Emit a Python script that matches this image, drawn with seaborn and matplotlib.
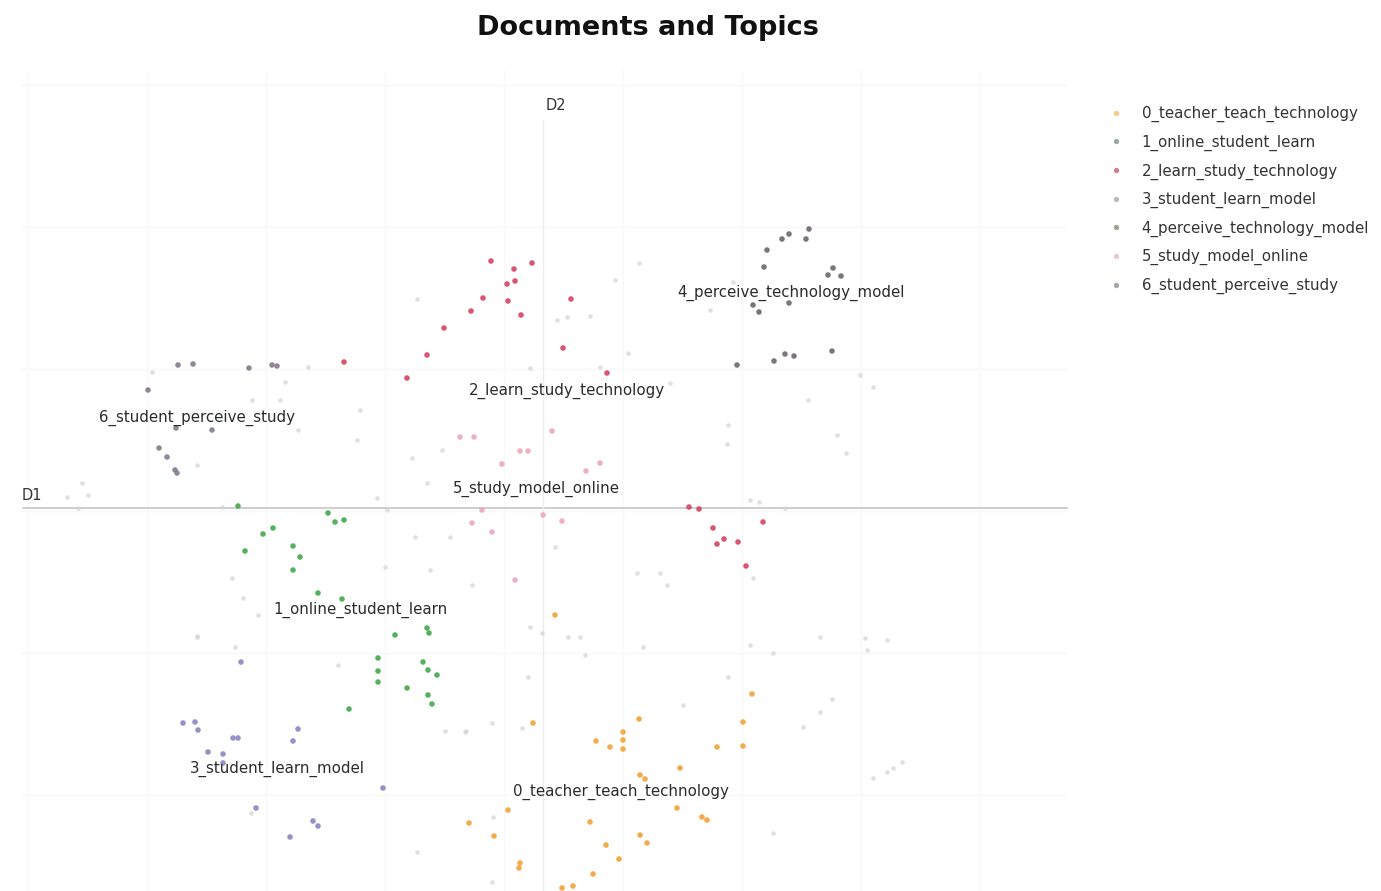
import matplotlib
matplotlib.use("Agg")
import matplotlib.pyplot as plt
import seaborn as sns
import pandas as pd
import numpy as np
from matplotlib.lines import Line2D

sns.set_theme(style="white")
plt.rcParams['font.family'] = ['DejaVu Sans']

topic_names = ["0_teacher_teach_technology", "1_online_student_learn", "2_learn_study_technology",
               "3_student_learn_model", "4_perceive_technology_model", "5_study_model_online",
               "6_student_perceive_study"]

t0_x = [-0.10, 0.53, 0.67, 0.80, 0.80, 0.80, 0.96, 1.74, 2.00, 2.00, 2.09, 1.37, 0.97, 1.02, 1.34, 1.59,
        1.64, -0.35, -0.74, -0.49, 0.47, 0.97, 1.04, 0.63, 0.76, -0.23, -0.24, 0.50, 0.19, 0.30, 0.12]
t0_y = [-2.15, -2.33, -2.39, -2.24, -2.32, -2.41, -2.11, -2.39, -2.14, -2.38, -1.86, -2.60, -2.67, -2.71,
        -3.00, -3.09, -3.12, -3.02, -3.15, -3.28, -3.14, -3.27, -3.35, -3.37, -3.51, -3.55, -3.60, -3.66,
        -3.80, -3.78, -1.07]

t1_x = [-3.05, -2.80, -2.70, -2.98, -2.50, -2.43, -2.50, -2.15, -2.08, -1.99, -2.25, -2.01, -1.48, -1.16,
        -1.14, -1.65, -1.65, -1.65, -1.20, -1.15, -1.06, -1.36, -1.15, -1.11, -1.94]
t1_y = [0.02, -0.26, -0.20, -0.43, -0.38, -0.49, -0.62, -0.05, -0.14, -0.12, -0.85, -0.91, -1.27, -1.20,
        -1.25, -1.50, -1.63, -1.74, -1.54, -1.62, -1.67, -1.80, -1.87, -1.96, -2.01]

t2_x = [-0.52, -0.29, -0.11, -0.36, -0.28, -0.60, -0.35, 0.28, -0.72, -0.22, -0.99, -1.16, 0.20, -1.36,
        0.64, -1.99, 1.46, 1.56, 1.70, 1.74, 1.81, 1.95, 2.20, 2.03]
t2_y = [2.47, 2.39, 2.45, 2.24, 2.27, 2.10, 2.07, 2.09, 1.97, 1.93, 1.80, 1.53, 1.60, 1.30,
        1.35, 1.46, 0.01, -0.01, -0.20, -0.36, -0.31, -0.34, -0.14, -0.58]

t3_x = [-3.60, -3.48, -3.45, -3.10, -3.05, -2.45, -2.50, -3.35, -3.20, -3.20, -2.87, -2.30, -2.25, -2.53,
        -1.60, -3.02]
t3_y = [-2.15, -2.14, -2.22, -2.30, -2.30, -2.21, -2.33, -2.44, -2.46, -2.55, -3.00, -3.13, -3.18, -3.29,
        -2.80, -1.54]

t4_x = [2.39, 2.46, 2.63, 2.66, 2.24, 2.21, 2.90, 2.85, 2.98, 2.10, 2.16, 1.94, 2.31, 2.42, 2.51, 2.89, 2.46]
t4_y = [2.69, 2.74, 2.69, 2.79, 2.58, 2.41, 2.40, 2.33, 2.32, 2.03, 1.96, 1.43, 1.47, 1.54, 1.52, 1.57, 2.05]

t5_x = [0.09, -0.23, -0.15, -0.41, -0.69, -0.83, 0.57, 0.43, 0.19, 0.00, -0.61, -0.51, -0.71, -0.28]
t5_y = [0.77, 0.57, 0.57, 0.44, 0.71, 0.71, 0.45, 0.37, -0.13, -0.07, -0.02, -0.24, -0.15, -0.72]

t6_x = [-3.65, -3.50, -2.94, -2.71, -2.66, -3.95, -3.84, -3.76, -3.68, -3.66, -3.31, -3.67]
t6_y = [1.43, 1.44, 1.40, 1.43, 1.42, 1.18, 0.60, 0.51, 0.38, 0.35, 0.78, 0.80]

other_x = [-3.91, -2.35, -2.58, -2.91, -2.63, -1.83, -2.45, -1.86, -1.01, -1.31, -1.16, -1.66, -3.46, -4.61,
           -4.55, -4.76, -4.65, -3.21, -1.56, -1.28, -0.93, -1.13, -1.58, -3.11, -3.00, -2.85, -3.46, -3.08,
           -2.05, 0.12, -0.71, -0.13, -0.01, -0.15, 1.85, 1.84, 2.94, 3.03, 2.07, 2.16, 2.42, 0.94, 1.17,
           1.24, 2.10, 0.37, 0.25, 0.42, 1.00, 2.07, 2.30, 2.77, 3.22, 3.44, 3.24, 1.85, 1.40, -0.51, -0.21,
           -0.78, 2.89, 2.77, 2.60, 3.30, 3.44, 3.50, 3.59, 2.30, -0.51, -0.50, 0.96, -1.26, 0.14, 0.24,
           0.47, 0.72, 0.85, -0.13, 0.57, 1.27, 2.65, 3.17, 3.30, 1.67, 1.90, -3.46, -0.98, -0.77, -1.26, -2.92]
other_y = [1.36, 1.41, 1.26, 1.08, 1.08, 0.98, 0.78, 0.68, 0.58, 0.50, 0.25, 0.10, 0.43, 0.25,
           0.13, 0.11, 0.00, 0.01, -0.02, -0.29, -0.29, -0.62, -0.59, -0.70, -0.90, -1.07, -1.29, -1.39,
           -1.57, -0.39, -0.77, -1.19, -1.25, -1.69, 0.83, 0.64, 0.73, 0.55, 0.08, 0.06, 0.00, -0.65, -0.65,
           -0.77, -0.70, -1.29, -1.29, -1.47, -1.39, -1.37, -1.45, -1.29, -1.30, -1.32, -1.42, -1.69, -1.97,
           -2.15, -2.20, -2.24, -1.91, -2.04, -2.19, -2.70, -2.64, -2.60, -2.54, -3.25, -3.74, -3.09, 2.45,
           2.09, 1.88, 1.91, 1.92, 2.28, 1.55, 1.40, 1.41, 1.25, 1.08, 1.33, 1.21, 1.98, 2.26, -1.28, -2.23,
           -2.23, -3.44, -3.05]

label_x = [0.78, -1.83, 0.24, -2.66, 2.48, -0.07, -3.46]
label_y = [-2.84, -1.02, 1.17, -2.61, 2.15, 0.19, 0.90]

colors = ["#F2A33A", "#45A84F", "#D2455E", "#8A86C2", "#6F6670", "#EBA9BA", "#857A8C"]
legend_colors = ["#F6C88A", "#9AA6A0", "#D57C90", "#B8B8BE", "#9DA295", "#EFC6D0", "#A8A2AC"]

xs = [t0_x, t1_x, t2_x, t3_x, t4_x, t5_x, t6_x]
ys = [t0_y, t1_y, t2_y, t3_y, t4_y, t5_y, t6_y]
rows = []
for name, xv, yv in zip(topic_names, xs, ys):
    for a, b in zip(xv, yv):
        rows.append((name, a, b))
df = pd.DataFrame(rows, columns=["topic", "D1", "D2"])
df_other = pd.DataFrame({"D1": other_x, "D2": other_y})

W, H = 1381, 891
fig = plt.figure(figsize=(W / 100, H / 100), dpi=100)
ax = fig.add_axes([20 / W, 0, (1068 - 20) / W, (891 - 70) / H])

xlim = (-5.23, 5.25)
ylim = (-3.83, 4.38)

# faint grid
ax.set_xticks(np.arange(-5.15, 5.3, 1.19))
ax.set_yticks(np.arange(-2.87, 4.4, 1.42))
ax.grid(True, color="#F8F8F8", linewidth=1.0)
ax.set_axisbelow(True)

# axis lines D1 / D2
ax.plot([xlim[0] + 0.03, xlim[1]], [0, 0], color="#CACACA", linewidth=1.3, zorder=1)
ax.plot([0, 0], [ylim[0], 3.88], color="#EDEDED", linewidth=1.0, zorder=1)

sns.scatterplot(data=df_other, x="D1", y="D2", color="#D3D3D3", s=11, linewidth=0,
                alpha=0.7, ax=ax, legend=False, zorder=2)
sns.scatterplot(data=df, x="D1", y="D2", hue="topic", hue_order=topic_names,
                palette=dict(zip(topic_names, colors)), s=16, linewidth=0, alpha=0.9,
                ax=ax, legend=False, zorder=3)

for name, lx, ly in zip(topic_names, label_x, label_y):
    ax.text(lx, ly, name, ha="center", va="center", fontsize=10.8, color="#2B2B2B", zorder=4)

ax.text(xlim[0] + 0.02, 0.13, "D1", ha="left", va="center", fontsize=10.5, color="#333333")
ax.text(0.13, 4.03, "D2", ha="center", va="center", fontsize=10.5, color="#333333")

ax.set_xlim(*xlim)
ax.set_ylim(*ylim)
ax.set_xlabel("")
ax.set_ylabel("")
ax.tick_params(left=False, bottom=False, labelleft=False, labelbottom=False)
for sp in ax.spines.values():
    sp.set_visible(False)

handles = [Line2D([0], [0], marker="o", linestyle="", markersize=3.8, markerfacecolor=c,
                  markeredgewidth=0) for c in legend_colors]
fig.legend(handles, topic_names, loc="upper left", bbox_to_anchor=(1102 / W, 1 - 100 / H),
           frameon=False, fontsize=10.8, labelspacing=0.83, handletextpad=1.25,
           handlelength=1.0, borderaxespad=0, labelcolor="#333333")

fig.text(648 / W, 1 - 28 / H, "Documents and Topics", ha="center", va="center",
         fontsize=19.5, fontweight="bold", color="#111111")

fig.savefig("out.png", dpi=100)
